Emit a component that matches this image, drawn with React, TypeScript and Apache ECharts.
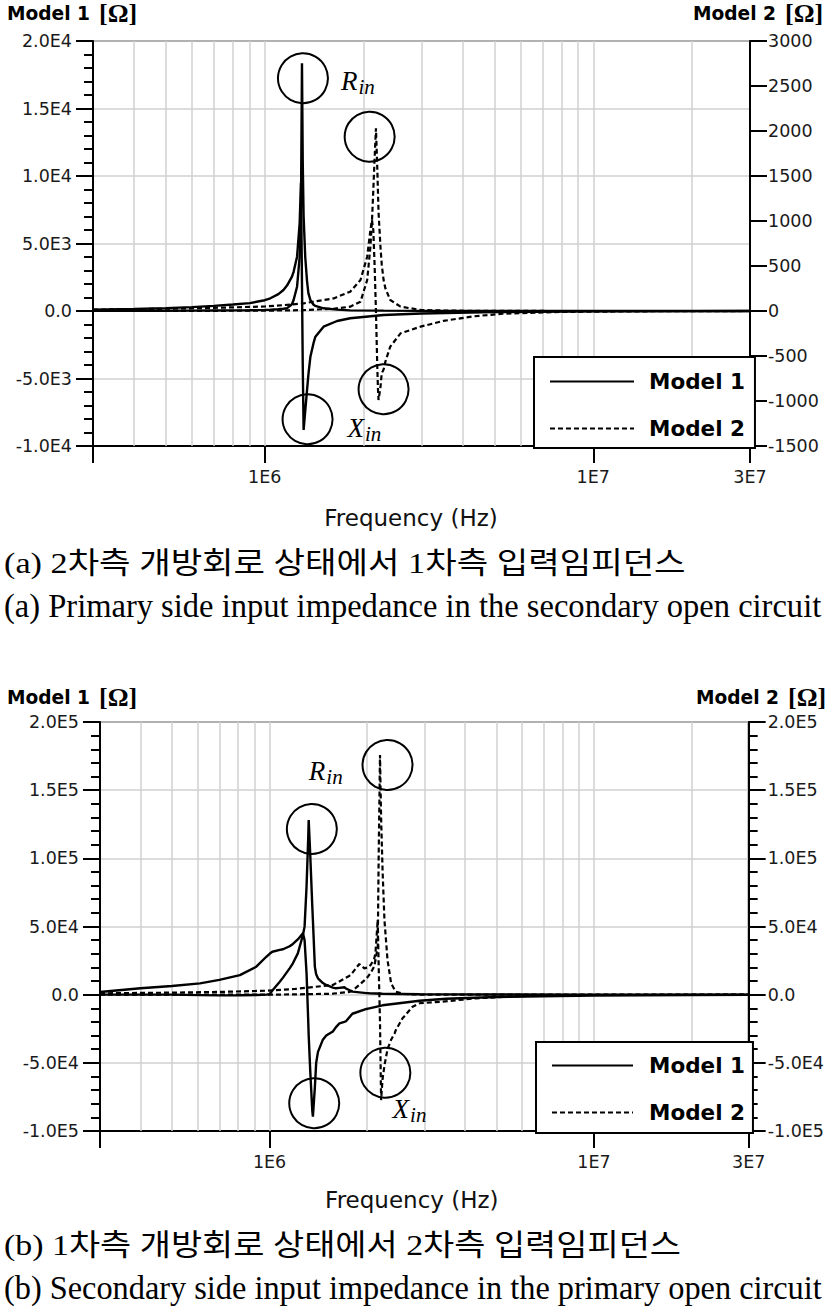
import React, { useEffect, useRef } from 'react';
import * as echarts from 'echarts';

// ---------- data ----------
// Chart (a): primary side input impedance, secondary open
const freqA1 = [3e5, 4e5, 5e5, 6e5, 7e5, 8e5, 9e5, 1.0e6, 1.04e6, 1.1e6, 1.14e6, 1.17e6, 1.21e6, 1.224e6, 1.254e6, 1.277e6, 1.289e6, 1.298e6, 1.305e6, 1.313e6, 1.328e6, 1.345e6, 1.358e6, 1.377e6, 1.41e6, 1.426e6, 1.51e6, 1.66e6, 1.82e6, 2.3e6, 3e6, 5e6, 1e7, 2e7, 3e7];
const rA1 = [10, 15, 20, 25, 35, 45, 60, 80, 95, 130, 170, 210, 500, 815, 1800, 4000, 7700, 18350, 11000, 7000, 4000, 2200, 1300, 800, 445, 380, 200, 100, 50, 25, 12, 5, 2, 1, 1];
const xA1 = [100, 150, 210, 290, 380, 480, 580, 800, 940, 1250, 1556, 1900, 2541, 2900, 4024, 6500, 9500, 2000, -4000, -8813, -7400, -5850, -4700, -3385, -2300, -1904, -1163, -740, -540, -296, -180, -80, -30, -10, -5];

const freqA2 = [3e5, 5e5, 7e5, 1e6, 1.14e6, 1.313e6, 1.62e6, 1.82e6, 1.956e6, 2.05e6, 2.097e6, 2.12e6, 2.14e6, 2.16e6, 2.18e6, 2.20e6, 2.21e6, 2.22e6, 2.25e6, 2.27e6, 2.30e6, 2.33e6, 2.41e6, 2.59e6, 2.98e6, 3.5e6, 4.3e6, 5.3e6, 8e6, 1.5e7, 3e7];
const rA2 = [0, 1, 2, 4, 6, 10, 25, 48, 103, 344, 714, 1000, 1344, 1700, 2030, 1600, 1344, 1100, 714, 520, 344, 250, 122, 48, 12, 5, 2, 1, 0, 0, 0];
const xA2 = [15, 25, 35, 50, 65, 85, 140, 215, 344, 603, 900, 1011, 900, 500, 0, -600, -850, -989, -850, -692, -650, -560, -396, -248, -174, -110, -60, -30, -10, -3, 0];

// Chart (b): secondary side input impedance, primary open
const freqB1 = [3e5, 4e5, 5e5, 6.1e5, 7e5, 8.1e5, 9.1e5, 9.77e5, 1.0e6, 1.02e6, 1.075e6, 1.1e6, 1.153e6, 1.18e6, 1.222e6, 1.267e6, 1.282e6, 1.30e6, 1.316e6, 1.32e6, 1.334e6, 1.354e6, 1.36e6, 1.379e6, 1.392e6, 1.41e6, 1.46e6, 1.495e6, 1.567e6, 1.6e6, 1.643e6, 1.70e6, 1.72e6, 1.80e6, 1.99e6, 2.03e6, 2.23e6, 2.9e6, 3.5e6, 5e6, 1e7, 2e7, 3e7];
const rB1 = [0, 0, 0, -300, -500, -400, -200, 0, 300, 3000, 9500, 12500, 19300, 23000, 30300, 43800, 49900, 79200, 115900, 128100, 103700, 65000, 54800, 20500, 15000, 12000, 8500, 7100, 5200, 4670, 5000, 5400, 4500, 2200, 1100, 1000, 700, 300, 200, 100, 50, 20, 10];
const xB1 = [2000, 4670, 6360, 8300, 10900, 14300, 20500, 27800, 30000, 31500, 32800, 33300, 35500, 37200, 40500, 45000, 40000, 15900, -20000, -30000, -55000, -85000, -89500, -68000, -50000, -42000, -33000, -30000, -27000, -24000, -21000, -20000, -19500, -14000, -10500, -10000, -7800, -4500, -3000, -1700, -600, -250, -150];

const freqB2 = [3e5, 5e5, 7e5, 9.77e5, 1.2e6, 1.567e6, 1.76e6, 1.80e6, 1.89e6, 1.96e6, 2.01e6, 2.05e6, 2.10e6, 2.12e6, 2.155e6, 2.17e6, 2.19e6, 2.207e6, 2.23e6, 2.26e6, 2.31e6, 2.37e6, 2.43e6, 2.45e6, 2.57e6, 2.6e6, 2.76e6, 2.9e6, 3.41e6, 4.32e6, 5.5e6, 7e6, 1e7, 3e7];
const rB2 = [0, 0, 0, 0, 200, 700, 2000, 2900, 7100, 10500, 13200, 16000, 20500, 25000, 35200, 103700, 175800, 130000, 91400, 54800, 25400, 8300, 3500, 2200, 800, 500, 200, 100, 50, 20, 10, 5, 0, 0];
const xB2 = [1000, 1500, 2000, 2900, 4200, 7100, 13700, 16000, 22500, 19300, 20000, 21800, 26000, 30300, 54800, 20000, -20000, -77300, -62000, -52000, -40000, -33000, -28300, -26000, -17300, -16000, -8800, -6300, -5100, -2700, -1500, -500, -200, 0];

// annotation anchors (data coordinates)
const circR1A = [1.307e6, 17240];
const circX1A = [1.35e6, -8020];
const circR2A = [2.086e6, 1937];
const circX2A = [2.30e6, -870];
const textRA = [1.92e6, 17040];
const textXA = [2.01e6, -8665];
const circR1B = [1.35e6, 121500];
const circX1B = [1.373e6, -79700];
const circR2B = [2.31e6, 168500];
const circX2B = [2.275e6, -57200];
const textRB = [1.49e6, 164400];
const textXB = [2.70e6, -83900];

// axes / labels
const xTickValues = [3e5, 1e6, 1e7, 3e7];
const xTickLabels = ['', '1E6', '1E7', '3E7'];
const gridFreqs = [4e5, 5e5, 6e5, 7e5, 8e5, 9e5, 1e6, 2e6, 3e6, 4e6, 5e6, 6e6, 7e6, 8e6, 9e6, 1e7, 2e7];
const legendNames = ['Model 1', 'Model 2'];
const leftTitle = 'Model 1';
const rightTitle = 'Model 2';
const unit = '[Ω]';
const xName = 'Frequency (Hz)';
const captionAko = '(a) 2차측 개방회로 상태에서 1차측 입력임피던스';
const captionAen = '(a) Primary side input impedance in the secondary open circuit';
const captionBko = '(b) 1차측 개방회로 상태에서 2차측 입력임피던스';
const captionBen = '(b) Secondary side input impedance in the primary open circuit';

// ---------- styling ----------
const BLACK = '#000';
const GRIDC = '#d0d0d0';
const LBL = '#1a1a1a';
const TICKFONT = 'DejaVu Sans';

function eLabel(v: number): string {
  if (Math.abs(v) < 1e-9) return '0.0';
  const e = Math.floor(Math.log10(Math.abs(v)) + 1e-9);
  const m = v / Math.pow(10, e);
  return `${m.toFixed(1)}E${e}`;
}
function plainLabel(v: number): string {
  return String(Math.round(v));
}
function xLabel(v: number): string {
  const i = xTickValues.findIndex((t) => Math.abs(t - v) / t < 1e-3);
  return i >= 0 ? xTickLabels[i] : '';
}

function xAxisDef(gridIndex: number, nameGap: number, padRight: number) {
  return {
    type: 'log',
    logBase: 10,
    gridIndex,
    min: 3e5,
    max: 3e7,
    axisLine: { show: true, onZero: false, lineStyle: { color: BLACK, width: 2 } },
    axisTick: { show: true, length: 17, lineStyle: { color: BLACK, width: 2 } },
    minorTick: { show: false },
    splitLine: { show: false },
    axisLabel: { formatter: xLabel, margin: 22, fontFamily: TICKFONT, fontSize: 17.5, color: LBL },
    name: xName,
    nameLocation: 'middle',
    nameGap,
    nameTextStyle: { fontFamily: 'DejaVu Sans', fontSize: 23, color: '#111', padding: [0, padRight, 0, 0] },
  };
}

function yAxisDef(
  gridIndex: number,
  position: string,
  min: number,
  max: number,
  interval: number,
  formatter: (v: number) => string,
  minor: boolean,
  split: boolean,
  margin: number
) {
  return {
    type: 'value',
    gridIndex,
    position,
    min,
    max,
    interval,
    axisLine: { show: true, onZero: false, lineStyle: { color: BLACK, width: 2 } },
    axisTick: { show: true, length: 17, lineStyle: { color: BLACK, width: 2 } },
    minorTick: { show: minor, splitNumber: 5, length: 9, lineStyle: { color: BLACK, width: 2 } },
    splitLine: { show: split, lineStyle: { color: GRIDC, width: 1.5 } },
    minorSplitLine: { show: false },
    axisLabel: { formatter, margin, fontFamily: TICKFONT, fontSize: 17.5, color: LBL },
  };
}

const subRich = {
  r: { fontFamily: 'Liberation Serif', fontStyle: 'italic', fontSize: 27, lineHeight: 30, color: BLACK },
  s: { fontFamily: 'Liberation Serif', fontStyle: 'italic', fontSize: 21, lineHeight: 22, padding: [12, 0, 0, 1], color: BLACK },
};

function circleMark(coord: number[]) {
  return {
    coord,
    symbol: 'circle',
    symbolSize: 50,
    itemStyle: { color: 'rgba(0,0,0,0)', borderColor: BLACK, borderWidth: 2 },
    label: { show: false },
  };
}
function textMark(coord: number[], main: string) {
  return {
    coord,
    symbol: 'circle',
    symbolSize: 1,
    itemStyle: { color: 'rgba(0,0,0,0)', borderWidth: 0 },
    label: { show: true, position: 'inside', formatter: `{r|${main}}{s|in}`, rich: subRich },
  };
}

function lineSeries(
  name: string,
  f: number[],
  v: number[],
  xAxisIndex: number,
  yAxisIndex: number,
  dashed: boolean,
  marks: any[]
) {
  return {
    type: 'line',
    name,
    xAxisIndex,
    yAxisIndex,
    data: f.map((x, i) => [x, v[i]]),
    symbol: 'none',
    showSymbol: false,
    z: 3,
    silent: true,
    lineStyle: { color: BLACK, width: dashed ? 2.2 : 2.4, type: dashed ? [5, 3] : 'solid' },
    itemStyle: { color: BLACK },
    emphasis: { disabled: true },
    markPoint: { silent: true, z: 6, data: marks },
  };
}

function gridSeries(name: string, xAxisIndex: number, yAxisIndex: number) {
  return {
    type: 'line',
    name,
    xAxisIndex,
    yAxisIndex,
    data: [[3e5, 0]],
    symbol: 'none',
    silent: true,
    lineStyle: { opacity: 0, width: 0 },
    markLine: {
      silent: true,
      z: 1,
      symbol: ['none', 'none'],
      label: { show: false },
      emphasis: { disabled: true },
      lineStyle: { color: GRIDC, width: 1.5, type: 'solid' },
      data: gridFreqs.map((f) => ({ xAxis: f })),
    },
  };
}

function legendDef(left: number, top: number, itemWidth: number, padding: number[], textPad: number) {
  return {
    left,
    top,
    orient: 'vertical',
    itemWidth,
    itemHeight: 14,
    itemGap: 25,
    padding,
    borderColor: BLACK,
    borderWidth: 2,
    backgroundColor: '#fff',
    selectedMode: false,
    z: 10,
    data: legendNames,
    itemStyle: { opacity: 0 },
    lineStyle: { width: 2 },
    textStyle: { fontFamily: 'DejaVu Sans', fontWeight: 'bold', fontSize: 21.5, color: BLACK, padding: [0, 0, 0, textPad] },
  };
}

const titleRich = {
  m: { fontFamily: 'DejaVu Sans', fontWeight: 'bold', fontSize: 18.6, fill: BLACK },
  o: { fontFamily: 'Liberation Serif', fontWeight: 'bold', fontSize: 26, fill: BLACK, padding: [0, 0, 0, 9] },
};

function titleText(x: number, y: number, label: string) {
  return {
    type: 'text',
    x,
    y,
    silent: true,
    style: { text: `{m|${label}}{o|${unit}}`, rich: titleRich, align: 'left', verticalAlign: 'middle' },
  };
}

function measure(text: string, font: string): number {
  const c = document.createElement('canvas').getContext('2d');
  if (!c) return text.length * 14;
  c.font = font;
  return c.measureText(text).width;
}

const KO_FAMILY = '"Liberation Serif", "Noto Sans CJK KR"';
const EN_FAMILY = '"Liberation Serif"';

function captionText(text: string, family: string, size: number, x0: number, x1: number, y: number) {
  const w = measure(text, `${size}px ${family}`);
  const sx = (x1 - x0) / w;
  return {
    type: 'text',
    x: x0,
    y,
    scaleX: sx,
    silent: true,
    style: { text, fontFamily: family.replace(/"/g, "'"), fontSize: size, fill: BLACK, align: 'left', verticalAlign: 'middle' },
  };
}

export default function App() {
  const ref = useRef<HTMLDivElement>(null);
  useEffect(() => {
    if (!ref.current) return;
    const chart = echarts.init(ref.current, undefined, { renderer: 'svg' });
    const option: any = {
      animation: false,
      backgroundColor: '#fff',
      grid: [
        { left: 93, top: 41, width: 657, height: 405, show: true, borderColor: '#555', borderWidth: 2, backgroundColor: 'rgba(0,0,0,0)' },
        { left: 100, top: 722, width: 649, height: 409, show: true, borderColor: '#555', borderWidth: 2, backgroundColor: 'rgba(0,0,0,0)' },
      ],
      xAxis: [xAxisDef(0, 60, 21), xAxisDef(1, 57.5, 25)],
      yAxis: [
        yAxisDef(0, 'left', -10000, 20000, 5000, eLabel, true, true, 21),
        yAxisDef(0, 'right', -1500, 3000, 500, plainLabel, false, false, 18),
        yAxisDef(1, 'left', -100000, 200000, 50000, eLabel, true, true, 21),
        yAxisDef(1, 'right', -100000, 200000, 50000, eLabel, true, false, 19),
      ],
      legend: [
        legendDef(534, 357, 84, [13.5, 10, 8.5, 15], 10),
        legendDef(536, 1042, 81, [12.5, 8, 9.5, 15], 11),
      ],
      series: [
        gridSeries('grid-a', 0, 0),
        lineSeries('Model 1', freqA1, rA1, 0, 0, false, [circleMark(circR1A), textMark(textRA, 'R')]),
        lineSeries('Model 1', freqA1, xA1, 0, 0, false, [circleMark(circX1A), textMark(textXA, 'X')]),
        lineSeries('Model 2', freqA2, rA2, 0, 1, true, [circleMark(circR2A)]),
        lineSeries('Model 2', freqA2, xA2, 0, 1, true, [circleMark(circX2A)]),
        gridSeries('grid-b', 1, 2),
        lineSeries('Model 1', freqB1, rB1, 1, 2, false, [circleMark(circR1B), textMark(textRB, 'R')]),
        lineSeries('Model 1', freqB1, xB1, 1, 2, false, [circleMark(circX1B)]),
        lineSeries('Model 2', freqB2, rB2, 1, 3, true, [circleMark(circR2B)]),
        lineSeries('Model 2', freqB2, xB2, 1, 3, true, [circleMark(circX2B), textMark(textXB, 'X')]),
      ],
      graphic: [
        titleText(7, 13, leftTitle),
        titleText(693, 13, rightTitle),
        titleText(7, 697.5, leftTitle),
        titleText(696, 697.5, rightTitle),
        captionText(captionAko, KO_FAMILY, 30, 4, 686, 563),
        captionText(captionAen, EN_FAMILY, 33, 4, 822, 606),
        captionText(captionBko, KO_FAMILY, 30, 4, 681, 1245),
        captionText(captionBen, EN_FAMILY, 33, 4, 822, 1288),
      ],
    };
    chart.setOption(option);
    return () => chart.dispose();
  }, []);
  return (
    <div
      ref={ref}
      style={{ position: 'absolute', left: 0, top: 0, width: 827, height: 1313, background: '#fff' }}
    />
  );
}
